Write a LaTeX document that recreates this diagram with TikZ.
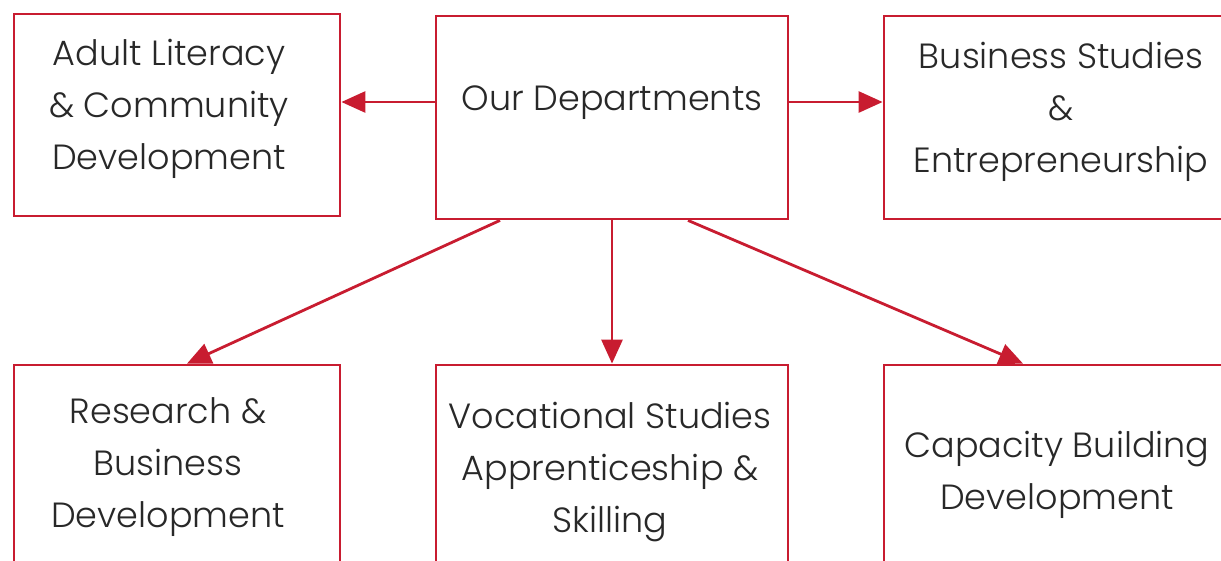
\documentclass[tikz,border=0pt]{standalone}
\usepackage{fontspec}
\setmainfont{Poppins}[UprightFont=* Light]
\usetikzlibrary{arrows.meta}
\definecolor{dred}{RGB}{200,28,48}
\definecolor{dtext}{RGB}{40,40,40}
\tikzset{
  deptbox/.style={draw=dred, line width=2.8pt, rectangle, inner sep=0pt},
  depttext/.style={align=center, text=dtext, font=\fontsize{35}{52}\selectfont, inner sep=0pt},
  conn/.style={draw=dred, line width=2.8pt, -{Triangle[length=24pt,width=21pt]}}
}
\begin{document}
\begin{tikzpicture}[x=1pt,y=-1pt]
\useasboundingbox (0,0) rectangle (1221,560);
% boxes
\node[deptbox, minimum width=326pt, minimum height=202pt] (TL) at (177,115) {};
\node[deptbox, minimum width=352pt, minimum height=203pt] (TM) at (612,117.5) {};
\node[deptbox, minimum width=356pt, minimum height=203pt] (TR) at (1062,117.5) {};
\node[deptbox, minimum width=326pt, minimum height=235pt] (BL) at (177,482.5) {};
\node[deptbox, minimum width=352pt, minimum height=235pt] (BM) at (612,482.5) {};
\node[deptbox, minimum width=356pt, minimum height=235pt] (BR) at (1062,482.5) {};
% texts
\node[depttext] (tTL) at (169,108.5) {Adult Literacy\\\& Community\\Development};
\node[depttext] (tTM) at (612,103) {Our Departments};
\node[depttext] (tTR) at (1061,111.5) {Business Studies\\\&\\Entrepreneurship};
\node[depttext] (tBL) at (168,467.5) {Research \&\\Business\\Development};
\node[depttext] (tBM) at (610,472.5) {Vocational Studies\\Apprenticeship \&\\Skilling};
\node[depttext] (tBR) at (1057,475) {Capacity Building\\Development};
% connectors
\draw[conn] ([yshift=15.5pt]TM.west) -- ([yshift=13pt]TL.east);
\draw[conn] ([yshift=15.5pt]TM.east) -- ([yshift=15.5pt]TR.west);
\draw[conn] ([xshift=-112pt]TM.south) -- ([xshift=10pt]BL.north);
\draw[conn] (TM.south) -- (BM.north);
\draw[conn] ([xshift=76pt]TM.south) -- ([xshift=-39pt]BR.north);
\end{tikzpicture}
\end{document}
